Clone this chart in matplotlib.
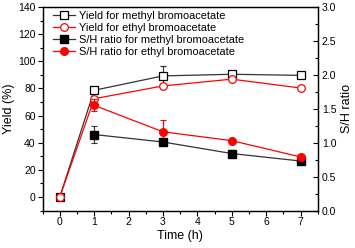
import numpy as np
import matplotlib
matplotlib.use("Agg")
import matplotlib.pyplot as plt
from matplotlib.ticker import MultipleLocator

plt.rcParams['font.family'] = ['Liberation Sans', 'DejaVu Sans']

# yields (%)
t_yield = [0, 1, 3, 5, 7]
yield_me = [0, 78.6, 89.2, 90.4, 89.6]
yield_me_err = [0, 0, 7.0, 0, 0]
yield_et = [0, 72.4, 81.8, 86.8, 80.3]
yield_et_err = [0, 0, 0, 0, 0]

# S/H ratio
t_ratio = [1, 3, 5, 7]
ratio_me = [1.12, 1.01, 0.84, 0.73]
ratio_me_err = [0.13, 0.04, 0.05, 0.05]
ratio_et = [1.55, 1.16, 1.03, 0.79]
ratio_et_err = [0.09, 0.17, 0.0, 0.03]

fig = plt.figure(figsize=(3.55, 2.48), dpi=100)
ax = fig.add_axes([0.120, 0.151, 0.775, 0.821])
ax2 = ax.twinx()

kw = dict(lw=0.9, ms=5.5, capsize=2.2, elinewidth=0.8, capthick=0.8)
h1 = ax.errorbar(t_yield, yield_me, yerr=yield_me_err, color='#333333', marker='s',
                 mfc='white', mec='black', mew=0.9, ecolor='#333333', **kw)
h2 = ax.errorbar(t_yield, yield_et, yerr=yield_et_err, color='red', marker='o',
                 mfc='white', mec='red', mew=0.9, ecolor='red', **kw)
h3 = ax2.errorbar(t_ratio, ratio_me, yerr=ratio_me_err, color='#333333', marker='s',
                  mfc='black', mec='black', ecolor='#333333', **kw)
h4 = ax2.errorbar(t_ratio, ratio_et, yerr=ratio_et_err, color='red', marker='o',
                  mfc='red', mec='red', ecolor='red', **kw)

ax.set_xlim(-0.5, 7.5)
ax.set_ylim(-10, 140)
ax2.set_ylim(0, 3.0)
ax.set_xticks([0, 1, 2, 3, 4, 5, 6, 7])
ax.xaxis.set_minor_locator(MultipleLocator(0.5))
ax.set_yticks([0, 20, 40, 60, 80, 100, 120, 140])
ax.yaxis.set_minor_locator(MultipleLocator(10))
ax2.set_yticks([0.0, 0.5, 1.0, 1.5, 2.0, 2.5, 3.0])
ax2.set_yticklabels(['0.0', '0.5', '1.0', '1.5', '2.0', '2.5', '3.0'])
ax2.yaxis.set_minor_locator(MultipleLocator(0.25))

ax.tick_params(axis='both', which='major', direction='out', length=3.5, width=0.8, labelsize=7.5, pad=1.5)
ax.tick_params(axis='both', which='minor', direction='out', length=2, width=0.8)
ax2.tick_params(axis='y', which='major', direction='in', length=3.5, width=0.8, labelsize=7.5, pad=3)
ax2.tick_params(axis='y', which='minor', direction='in', length=2, width=0.8)
for a in (ax, ax2):
    for s in a.spines.values():
        s.set_linewidth(0.9)

ax.set_xlabel('Time (h)', fontsize=9, labelpad=2)
ax.set_ylabel('Yield (%)', fontsize=9, labelpad=2)
ax2.set_ylabel('S/H ratio', fontsize=9, labelpad=3)

ax.legend([h1[0], h2[0], h3[0], h4[0]],
          ['Yield for methyl bromoacetate', 'Yield for ethyl bromoacetate',
           'S/H ratio for methyl bromoacetate', 'S/H ratio for ethyl bromoacetate'],
          loc='upper left', bbox_to_anchor=(0.01, 1.02), frameon=False, fontsize=7.9,
          handlelength=2.0, handletextpad=0.35, labelspacing=0.2, borderaxespad=0.3)

fig.savefig('out.png', dpi=100)
